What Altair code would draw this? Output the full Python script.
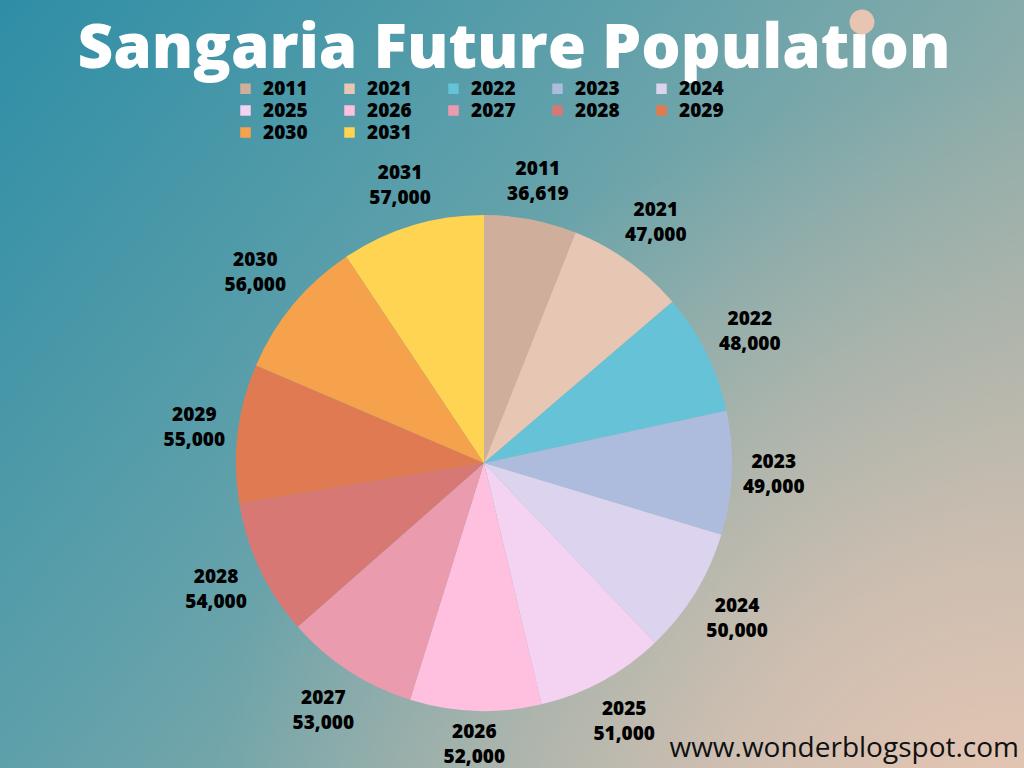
import altair as alt
import pandas as pd

years = ["2011", "2021", "2022", "2023", "2024", "2025", "2026", "2027", "2028", "2029", "2030", "2031"]
population = [36619, 47000, 48000, 49000, 50000, 51000, 52000, 53000, 54000, 55000, 56000, 57000]
colors = ["#cfae9b", "#e8c6b4", "#66c2d7", "#adbcdc", "#dcd3ee", "#f4d2f1",
          "#ffc0e0", "#ea9bae", "#d77874", "#e07a52", "#f6a24d", "#ffd452"]

df = pd.DataFrame({
    "year": years,
    "population": population,
    "idx": list(range(len(years))),
})
df["label"] = df.apply(lambda r: f"{r['year']}\n{r['population']:,}", axis=1)

W, H = 1024, 768
CX, CY = 484, 463
R = 248

bg = alt.Chart(pd.DataFrame({"a": [0]})).mark_rect(
    color=alt.LinearGradient(
        gradient="linear", x1=0, y1=0, x2=1, y2=0.6,
        stops=[alt.GradientStop(color="#2e8ea6", offset=0),
               alt.GradientStop(color="#5fa0aa", offset=0.45),
               alt.GradientStop(color="#8fadaa", offset=0.8),
               alt.GradientStop(color="#a8b3ab", offset=1)]
    )
).encode(x=alt.value(0), x2=alt.value(W), y=alt.value(0), y2=alt.value(H))

glow = alt.Chart(pd.DataFrame({"a": [0]})).mark_rect(
    color=alt.RadialGradient(
        gradient="radial", x1=1, y1=1, r1=0, x2=1, y2=1, r2=0.8,
        stops=[alt.GradientStop(color="rgba(240,200,180,1)", offset=0),
               alt.GradientStop(color="rgba(210,192,177,0.9)", offset=0.4),
               alt.GradientStop(color="rgba(180,180,170,0)", offset=1)]
    )
).encode(x=alt.value(0), x2=alt.value(W), y=alt.value(0), y2=alt.value(H))

arcs = alt.Chart(df).mark_arc(outerRadius=R, stroke=None).encode(
    theta=alt.Theta("population:Q", stack=True),
    order=alt.Order("idx:Q"),
    color=alt.Color("year:N", sort=years,
                    scale=alt.Scale(domain=years, range=colors),
                    legend=alt.Legend(
                        orient="none", legendX=236, legendY=79, columns=5,
                        direction="horizontal",
                        title=None, symbolType="square", symbolSize=110,
                        symbolStrokeWidth=0, labelFont="Open Sans",
                        labelFontWeight=800, labelFontSize=19,
                        labelColor="#000000", columnPadding=32, rowPadding=2,
                        labelOffset=8, symbolOffset=0,
                    )),
    x=alt.value(CX), y=alt.value(CY),
)

# labels sit outside the pie, with the label box kept clear of the rim
labels = alt.Chart(df).transform_joinaggregate(
    total="sum(population)"
).transform_window(
    cum="sum(population)", sort=[alt.SortField("idx")],
    frame=[None, 0],
).transform_calculate(
    ang="2*PI*(datum.cum - datum.population/2)/datum.total",
    lr="256 + abs(sin(datum.ang))*33 + abs(cos(datum.ang))*25",
).transform_calculate(
    px=f"{CX} + datum.lr*sin(datum.ang)",
    py=f"{CY} - datum.lr*cos(datum.ang)",
).mark_text(
    font="Open Sans", fontWeight=800, fontSize=19, dy=-12.5,
    lineBreak="\n", lineHeight=25, color="#000000", baseline="middle",
).encode(
    x=alt.X("px:Q", scale=None, axis=None),
    y=alt.Y("py:Q", scale=None, axis=None),
    text="label:N",
)

title = alt.Chart(pd.DataFrame({"t": ["Sangaria Future Population"]})).mark_text(
    font="Open Sans", fontWeight=800, fontSize=62, color="#ffffff",
    align="center", baseline="alphabetic",
).encode(text="t:N", x=alt.value(514), y=alt.value(68))

dot = alt.Chart(pd.DataFrame({"a": [0]})).mark_point(
    shape="circle", filled=True, size=620, color="#e8c4b2", opacity=1,
).encode(x=alt.value(862), y=alt.value(22))

wm = alt.Chart(pd.DataFrame({"t": ["www.wonderblogspot.com"]})).mark_text(
    font="Open Sans", fontSize=28, color="#111111",
    align="right", baseline="alphabetic",
).encode(text="t:N", x=alt.value(1019), y=alt.value(757))

chart = alt.layer(bg, glow, arcs, labels, title, dot, wm).properties(
    width=W, height=H, padding=0,
    autosize=alt.AutoSizeParams(type="none"),
).configure_view(stroke=None).configure(background="#5fa0aa")

chart.save("out.html", embed_options={"renderer": "svg", "actions": False})
